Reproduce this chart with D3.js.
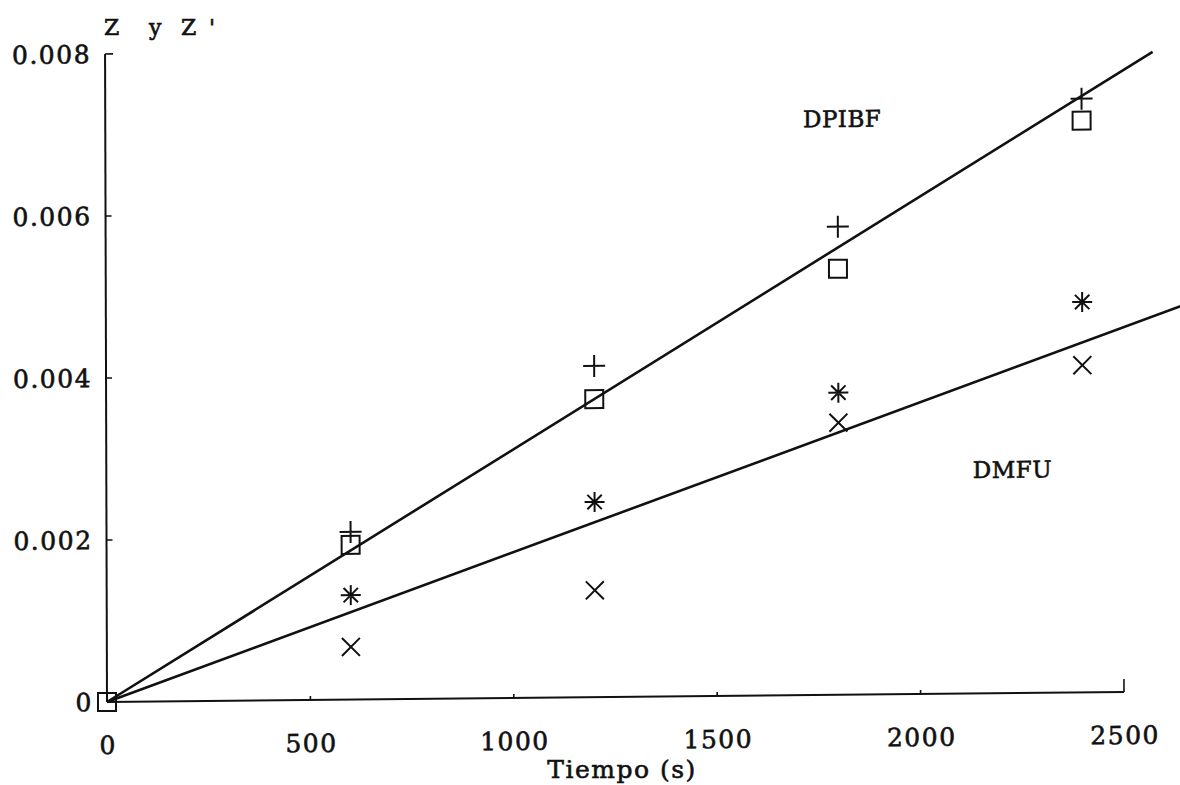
<!DOCTYPE html>
<html>
<head>
<meta charset="utf-8">
<script src="https://cdn.jsdelivr.net/npm/d3@7"></script>
<style>
  body { margin: 0; background: #fff; }
  svg text { font-family: "DejaVu Serif", "Liberation Serif", serif; fill: #111; stroke: #111; stroke-width: 0.6px; }
</style>
</head>
<body>
<svg id="viz" width="1180" height="785"></svg>
<script>
// Data (time in s, fraction converted)
const markTime     = [600, 1200, 1800, 2400];
const squareTime   = [0, 600, 1200, 1800, 2400];
const dpibfPlus    = [0.00207, 0.00409, 0.00578, 0.00733];
const dpibfSquare  = [0, 0.00191, 0.00368, 0.00526, 0.00706];
const dmfuStar     = [0.00129, 0.00241, 0.00373, 0.00482];
const dmfuCross    = [0.00065, 0.00132, 0.00336, 0.00404];

// Fitted straight lines (start / end points)
const dpibfFit = [[0, 0], [2575, 0.0079]];
const dmfuFit  = [[0, 0], [2650, 0.00477]];

const xTicks = [0, 500, 1000, 1500, 2000, 2500];
const yTicks = [0, 0.002, 0.004, 0.006, 0.008];
const yTickLabels = ['0', '0.002', '0.004', '0.006', '0.008'];

const seriesLabels = [
  { text: 'DPIBF', t: 1715, v: 0.00701 },
  { text: 'DMFU',  t: 2130, v: 0.00266 }
];

const svg = d3.select('#viz');

// Scale setup (the scan is slightly tilted, so the plot group gets a small skew)
const x = d3.scaleLinear().domain([0, 2500]).range([0, 1017]);
const y = d3.scaleLinear().domain([0, 0.008]).range([0, -648]);

const g = svg.append('g')
  .attr('transform', 'translate(107,702) matrix(1,-0.0098,0.003,1,0,0)');

// Axes: left and bottom lines with ticks pointing inwards
g.append('line')
  .attr('x1', 0).attr('x2', 0)
  .attr('y1', y(0)).attr('y2', y(0.008))
  .attr('stroke', '#111').attr('stroke-width', 2);
g.append('line')
  .attr('x1', x(0)).attr('x2', x(2500))
  .attr('y1', 0).attr('y2', 0)
  .attr('stroke', '#111').attr('stroke-width', 2);

g.selectAll('.ytick')
  .data(yTicks.slice(1))
  .join('line')
    .attr('class', 'ytick')
    .attr('x1', 0)
    .attr('x2', d => d === 0.008 ? 8 : 6)
    .attr('y1', d => y(d))
    .attr('y2', d => y(d))
    .attr('stroke', '#111').attr('stroke-width', 1.6);

g.selectAll('.xtick')
  .data(xTicks.slice(1))
  .join('line')
    .attr('class', 'xtick')
    .attr('x1', d => x(d))
    .attr('x2', d => x(d))
    .attr('y1', 0)
    .attr('y2', d => d === 2500 ? -13 : -4)
    .attr('stroke', '#111').attr('stroke-width', 1.6);

g.selectAll('.ylab')
  .data(yTicks)
  .join('text')
    .attr('class', 'ylab')
    .attr('x', -14)
    .attr('y', d => y(d))
    .attr('dy', '0.36em')
    .attr('text-anchor', 'end')
    .attr('font-size', 25)
    .attr('letter-spacing', 1.5)
    .text((d, i) => yTickLabels[i]);

g.selectAll('.xlab')
  .data(xTicks)
  .join('text')
    .attr('class', 'xlab')
    .attr('x', d => x(d) + 1)
    .attr('y', 52)
    .attr('text-anchor', 'middle')
    .attr('font-size', 25)
    .attr('letter-spacing', 1.5)
    .text(d => d);

// Fitted lines
const line = d3.line().x(d => x(d[0])).y(d => y(d[1]));
[dpibfFit, dmfuFit].forEach(pts => {
  g.append('path')
    .attr('d', line(pts))
    .attr('fill', 'none')
    .attr('stroke', '#111')
    .attr('stroke-width', 2.6);
});

// Marker shapes
const mk = {
  plus:   s => `M${-s},0H${s}M0,${-s}V${s}`,
  square: s => `M${-s},${-s}H${s}V${s}H${-s}Z`,
  cross:  s => `M${-s},${-s}L${s},${s}M${s},${-s}L${-s},${s}`,
  star:   s => {
    const d = s * 0.72;
    return `M${-s},0H${s}M0,${-s}V${s}M${-d},${-d}L${d},${d}M${d},${-d}L${-d},${d}`;
  }
};

function drawMarks(times, values, shape, size) {
  g.selectAll(null)
    .data(values)
    .join('path')
      .attr('transform', (d, i) => `translate(${x(times[i])},${y(d)})`)
      .attr('d', mk[shape](size))
      .attr('fill', 'none')
      .attr('stroke', '#111')
      .attr('stroke-width', 2);
}

drawMarks(markTime, dpibfPlus, 'plus', 11);
drawMarks(squareTime, dpibfSquare, 'square', 9);
drawMarks(markTime, dmfuStar, 'star', 10);
drawMarks(markTime, dmfuCross, 'cross', 9);

// Series annotations
g.selectAll('.slab')
  .data(seriesLabels)
  .join('text')
    .attr('class', 'slab')
    .attr('x', d => x(d.t))
    .attr('y', d => y(d.v))
    .attr('font-size', 23)
    .attr('letter-spacing', 0.5)
    .text(d => d.text);

// Axis title and y label
svg.append('text')
  .attr('x', 622)
  .attr('y', 778)
  .attr('text-anchor', 'middle')
  .attr('font-size', 25)
  .attr('letter-spacing', 1.5)
  .text('Tiempo (s)');

const title = svg.append('text')
  .attr('y', 35)
  .attr('font-size', 22);
[['Z', 104], ['y', 149], ['Z', 181], ["'", 209]].forEach(([t, px]) => {
  title.append('tspan').attr('x', px).text(t);
});
</script>
</body>
</html>
